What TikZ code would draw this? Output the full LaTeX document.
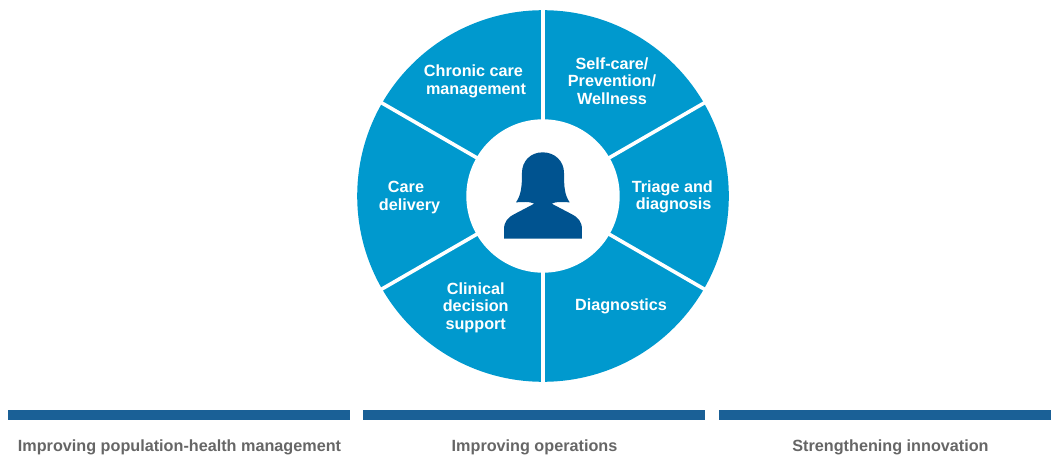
\documentclass[tikz,border=0pt]{standalone}
\usepackage{fontspec}
\setmainfont{Liberation Sans}
\definecolor{wheelblue}{HTML}{0099CE}
\definecolor{barblue}{HTML}{1A6096}
\definecolor{personblue}{HTML}{005390}
\definecolor{capgray}{HTML}{666666}
\tikzset{
  seglabel/.style={text=white,font=\bfseries\fontsize{16.2}{17.5}\selectfont,align=center,inner sep=0pt},
  caplabel/.style={text=capgray,font=\bfseries\fontsize{16.2}{17}\selectfont,inner sep=0pt},
  spoke/.style={draw=white,line width=3.6pt},
  barfill/.style={fill=barblue,draw=none}
}
\begin{document}
\begin{tikzpicture}[x=1pt,y=-1pt]
\useasboundingbox (0,0) rectangle (1051,457);
\coordinate (c) at (543,196);
% wheel
\fill[wheelblue] (c) circle[radius=185.8];
\foreach \a in {90,150,210,270,330,30}{
  \draw[spoke] (c) -- ++(\a:188);
}
\fill[white] (c) circle[radius=76.7];
% person (1/3 zoom coordinates)
\begin{scope}[shift={(440,100)},x=0.3333pt,y=-0.3333pt]
\fill[personblue]
  (308,157) .. controls (270,157) and (246,185) .. (246,218)
  .. controls (246,262) and (243,285) .. (228,307)
  .. controls (245,307) and (268,303) .. (283,311)
  -- (222,343)
  .. controls (205,351) and (192,365) .. (192,388)
  -- (192,416) -- (426,416) -- (426,388)
  .. controls (426,365) and (413,351) .. (396,343)
  -- (335,311)
  .. controls (350,303) and (372,307) .. (389,307)
  .. controls (374,285) and (372,262) .. (372,218)
  .. controls (372,185) and (346,157) .. (308,157) -- cycle;
\end{scope}
% labels
\node[seglabel] (l1) at (612,81) {Self-care/\\Prevention/\\Wellness};
\node[seglabel] (l2) at (672.3,196.8) {Triage and\\\hspace*{2.5pt}diagnosis};
\node[seglabel] (l3) at (621,306.5) {Diagnostics};
\node[seglabel] (l4) at (475.7,307.5) {Clinical\\decision\\support};
\node[seglabel] (l5) at (409.5,197.3) {Care\hspace*{7pt}\\delivery};
\node[seglabel] (l6) at (476,81.3) {Chronic care\hspace*{5pt}\\management};
% bars
\fill[barfill] (8,410) rectangle (350,420);
\fill[barfill] (363,410) rectangle (705,420);
\fill[barfill] (719,410) rectangle (1051,420);
\node[caplabel] (c1) at (179.5,447) {Improving population-health management};
\node[caplabel] (c2) at (534.5,447) {Improving operations};
\node[caplabel] (c3) at (890.5,447) {Strengthening innovation};
\end{tikzpicture}
\end{document}
